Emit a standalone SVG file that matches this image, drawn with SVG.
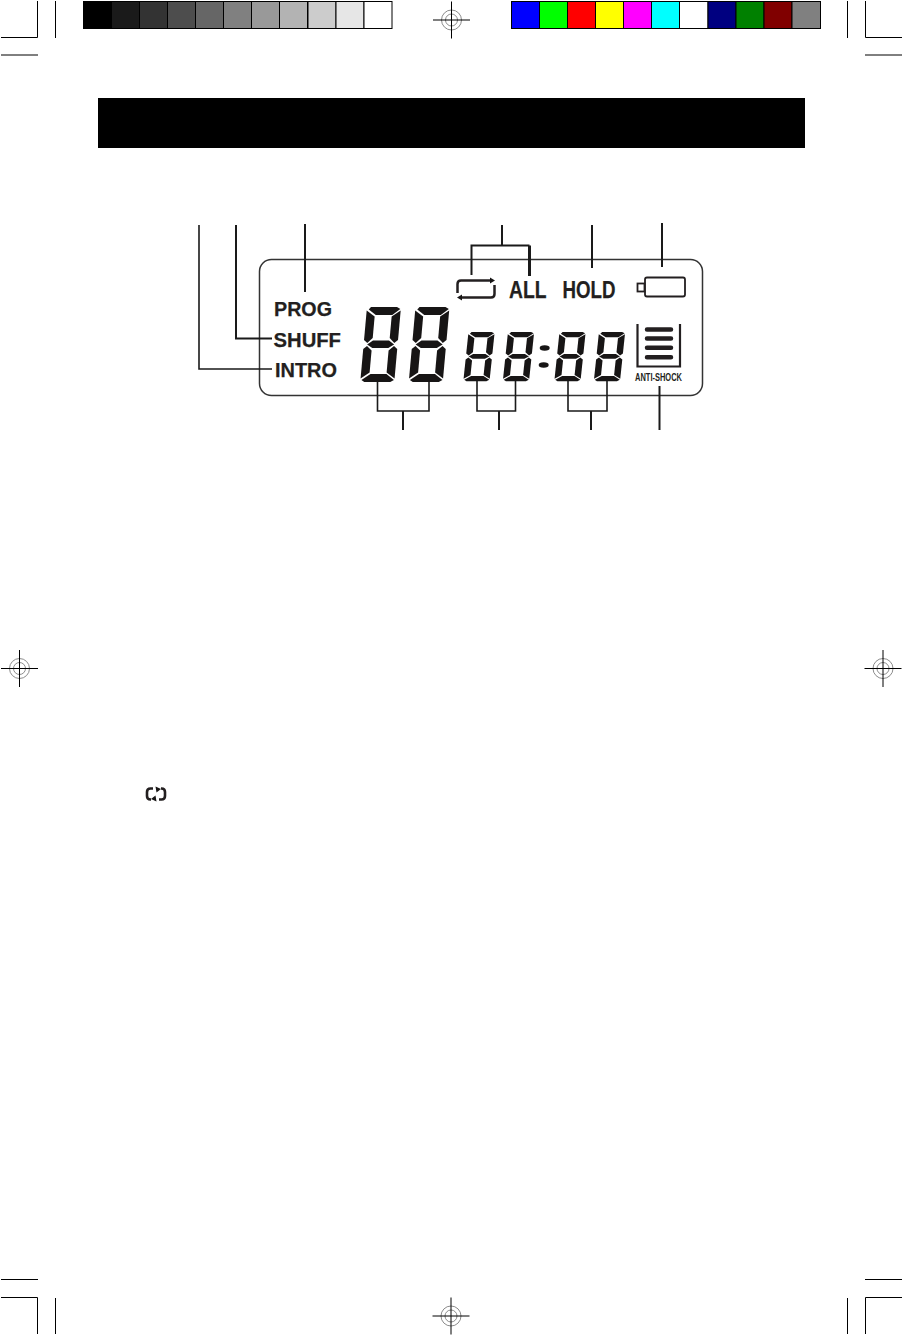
<svg xmlns="http://www.w3.org/2000/svg" xmlns:xlink="http://www.w3.org/1999/xlink" width="902" height="1335" viewBox="0 0 902 1335">
<style>
.crop{stroke:#000;stroke-width:1;fill:none}
.cell{stroke:#000;stroke-width:1}
.ring{stroke:#8c8c8c;stroke-width:1;fill:none}
.lead{stroke:#1a1a1a;stroke-width:1.600;fill:none}
.heavy{stroke:#1a1a1a;stroke-width:2;fill:none}
.lbl{font-family:"Liberation Sans",Arial,sans-serif;font-weight:700;fill:#231f20;stroke:#231f20;stroke-width:.25}
.seg{fill:#171515}
.icon{stroke:#231f20;fill:none}
</style>
<defs>
<g id="reg">
<circle class="ring" r="10"/><circle class="ring" r="6"/>
<path d="M-18.500 0H18.500M0-18.500V18.500" stroke="#000" stroke-width="1" fill="none"/>
</g>
<g id="digit" class="seg">
<polygon points="4,0 30,0 33.500,2 26,8 9.500,8 2,2.500"/>
<polygon points="0,3.500 8.500,9.500 8.500,31 3.500,36 0,33"/>
<polygon points="34,3.500 34,33 30.500,36 25.500,31 25.500,9.500"/>
<polygon points="3.500,37.500 9,33.500 25,33.500 30.500,37.500 25,41 9,41"/>
<polygon points="0,42 3.500,39 8.500,43.500 8.500,65.500 0,71.500"/>
<polygon points="34,42 34,71.500 25.500,65.500 25.500,43.500 30.500,39"/>
<polygon points="9.500,67 25.500,67 33.500,73 30,75 4,75 1,73"/>
</g>
</defs>
<rect width="902" height="1335" fill="#fff"/>
<g id="crop-marks">
<path class="crop" d="M1 37.500H37.500V1M55.500 1V38M1 55H38"/>
<path class="crop" d="M847.500 1V38M865.500 1V37.500H902M865 55H902"/>
<path class="crop" d="M1 1279.500H38M1 1297.500H37.500V1334M55.500 1298V1334"/>
<path class="crop" d="M847.500 1298V1334M865.500 1334V1297.500H902M865 1279.500H902"/>
</g>
<g id="registration-marks">
<use xlink:href="#reg" href="#reg" x="451.500" y="20"/>
<use xlink:href="#reg" href="#reg" x="19.500" y="668.500"/>
<use xlink:href="#reg" href="#reg" x="883" y="668.500"/>
<use xlink:href="#reg" href="#reg" x="451" y="1316"/>
</g>
<g id="grey-bar">
<rect class="cell" x="83.500" y="1.500" width="28" height="27" fill="#000"/>
<rect class="cell" x="111.500" y="1.500" width="28" height="27" fill="#1a1a1a"/>
<rect class="cell" x="139.500" y="1.500" width="28" height="27" fill="#333"/>
<rect class="cell" x="167.500" y="1.500" width="28" height="27" fill="#4d4d4d"/>
<rect class="cell" x="195.500" y="1.500" width="28" height="27" fill="#666"/>
<rect class="cell" x="223.500" y="1.500" width="28" height="27" fill="#808080"/>
<rect class="cell" x="251.500" y="1.500" width="28" height="27" fill="#999"/>
<rect class="cell" x="279.500" y="1.500" width="28" height="27" fill="#b3b3b3"/>
<rect class="cell" x="308" y="1.500" width="28" height="27" fill="#ccc"/>
<rect class="cell" x="336" y="1.500" width="28" height="27" fill="#e6e6e6"/>
<rect class="cell" x="364" y="1.500" width="28" height="27" fill="#fff"/>
</g>
<g id="colour-bar">
<rect class="cell" x="511.500" y="1.500" width="28" height="27" fill="#00f"/>
<rect class="cell" x="539.500" y="1.500" width="28" height="27" fill="#0f0"/>
<rect class="cell" x="567.500" y="1.500" width="28" height="27" fill="#f00"/>
<rect class="cell" x="595.500" y="1.500" width="28" height="27" fill="#ff0"/>
<rect class="cell" x="623.500" y="1.500" width="28" height="27" fill="#f0f"/>
<rect class="cell" x="651.500" y="1.500" width="28" height="27" fill="#0ff"/>
<rect class="cell" x="679.500" y="1.500" width="28.500" height="27" fill="#fff"/>
<rect class="cell" x="708" y="1.500" width="28" height="27" fill="#000080"/>
<rect class="cell" x="736" y="1.500" width="28" height="27" fill="#008000"/>
<rect class="cell" x="764" y="1.500" width="28" height="27" fill="#800000"/>
<rect class="cell" x="792" y="1.500" width="28.500" height="27" fill="#808080"/>
</g>
<rect id="title-bar" x="98" y="98" width="707" height="50" fill="#000"/>
<g id="lcd-panel">
<rect x="259.500" y="259.500" width="443" height="136" rx="12" ry="12" fill="#fff" stroke="#333" stroke-width="1.500"/>
</g>
<g id="connectors">
<path class="lead" d="M199 225V369H272"/>
<path class="heavy" d="M236 225V338.500H272"/>
<path class="heavy" d="M305 224V292"/>
<path class="heavy" d="M502 225V245.500M471.500 275V245.500H529.500"/>
<path d="M529.500 245.500V276" stroke="#1a1a1a" stroke-width="3" fill="none"/>
<path class="heavy" d="M592 225V268"/>
<path class="heavy" d="M662 223V267"/>
<path class="lead" d="M377.500 382V411H429V382"/>
<path class="heavy" d="M403 411V430"/>
<path class="lead" d="M477 381V411H515.500V381"/>
<path class="heavy" d="M499 411V430"/>
<path class="lead" d="M568 381V411H607V381"/>
<path class="heavy" d="M591 411V430"/>
<path class="heavy" d="M659.500 386V430"/>
</g>
<g id="label-prog"><text class="lbl" x="274" y="315.500" font-size="21" textLength="58" lengthAdjust="spacingAndGlyphs">PROG</text></g>
<g id="label-shuff"><text class="lbl" x="273.500" y="346.500" font-size="21" textLength="67.500" lengthAdjust="spacingAndGlyphs">SHUFF</text></g>
<g id="label-intro"><text class="lbl" x="275" y="377" font-size="21" textLength="62" lengthAdjust="spacingAndGlyphs">INTRO</text></g>
<g id="label-all"><text class="lbl" x="509" y="298" font-size="23" textLength="37.500" lengthAdjust="spacingAndGlyphs">ALL</text></g>
<g id="label-hold"><text class="lbl" x="562.500" y="298" font-size="23" textLength="53" lengthAdjust="spacingAndGlyphs">HOLD</text></g>
<g id="icon-repeat">
<path class="icon" stroke-width="2.500" d="M457.500 293V284Q457.500 280.500 461 280.500H491M494.500 285V294Q494.500 297.500 491 297.500H461"/>
<polygon class="seg" points="490,277.500 495,280.500 490,283.500"/>
<polygon class="seg" points="462,294.500 457,297.500 462,300.500"/>
</g>
<g id="icon-battery">
<rect class="icon" stroke-width="1.800" x="645" y="277.500" width="40" height="19" rx="2"/>
<rect class="icon" stroke-width="1.800" x="637.500" y="283.500" width="7" height="8"/>
</g>
<g id="icon-antishock">
<path class="icon" stroke-width="2.200" d="M637.500 324V366.500H680V324"/>
<path class="icon" stroke-width="4.500" stroke-linecap="round" d="M647 329.500H671M647 338.500H671M647 347.700H671M647 357.300H671"/>
<text class="lbl" x="635" y="381" font-size="10.500" textLength="47" lengthAdjust="spacingAndGlyphs" style="stroke-width:0">ANTI-SHOCK</text>
</g>
<g id="track-digits">
<use xlink:href="#digit" href="#digit" transform="matrix(1,0,-0.09,1,367,307)"/>
<use xlink:href="#digit" href="#digit" transform="matrix(1,0,-0.09,1,415.500,307)"/>
</g>
<g id="time-digits">
<use xlink:href="#digit" href="#digit" transform="matrix(0.77,0,-0.069,0.655,468.500,332)"/>
<use xlink:href="#digit" href="#digit" transform="matrix(0.77,0,-0.069,0.655,508,332)"/>
<ellipse class="seg" cx="544.700" cy="348" rx="5" ry="2.800"/>
<ellipse class="seg" cx="543.700" cy="365" rx="5" ry="2.800"/>
<use xlink:href="#digit" href="#digit" transform="matrix(0.77,0,-0.069,0.655,559.500,332)"/>
<use xlink:href="#digit" href="#digit" transform="matrix(0.77,0,-0.069,0.655,599,332)"/>
</g>
<g id="repeat-glyph">
<path class="icon" stroke-width="2.600" d="M153 788.500H150.500Q147 788.500 147 792V796Q147 799.500 150.500 799.500H151M159 799.500H161.500Q165 799.500 165 796V792Q165 788.500 161.500 788.500H161"/>
<polygon class="seg" points="155.500,786.500 161,789 156.500,792.500"/>
<polygon class="seg" points="156.500,801.500 151,799 155.500,795.500"/>
</g>
</svg>
